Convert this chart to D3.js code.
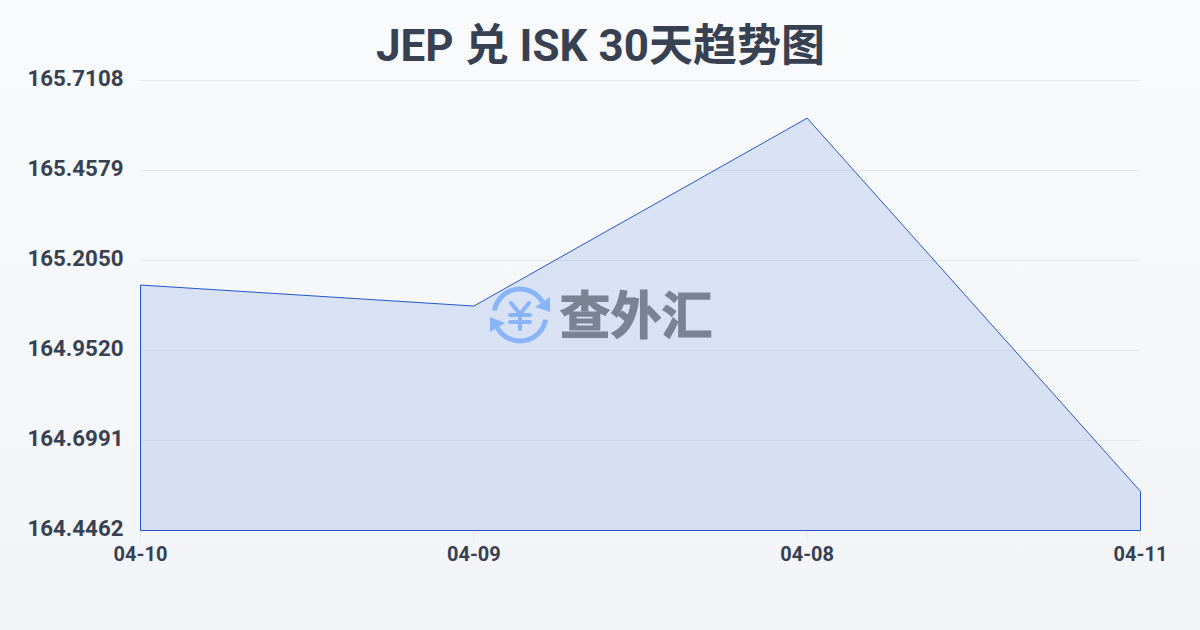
<!DOCTYPE html>
<html><head><meta charset="utf-8">
<script src="https://cdn.jsdelivr.net/npm/d3@7/dist/d3.min.js"></script>
<style>html,body{margin:0;padding:0;width:1200px;height:630px;overflow:hidden}svg{display:block}
text{font-family:Roboto,"Noto Sans CJK SC",sans-serif;font-weight:700}</style></head>
<body><svg id="c" width="1200" height="630"></svg>
<script>
const titleText = "JEP 兑 ISK 30天趋势图";
const categories = ["04-10","04-09","04-08","04-11"];
const rates = [165.136,165.077,165.605,164.556];
const yTickLabels = ["164.4462","164.6991","164.9520","165.2050","165.4579","165.7108"];
const watermarkText = "查外汇";

const svg = d3.select("#c");
const defs = svg.append("defs");
const bg = defs.append("linearGradient").attr("id","bg").attr("x1",0).attr("y1",0).attr("x2",0).attr("y2",1);
bg.append("stop").attr("offset",0).attr("stop-color","#f8fafc");
bg.append("stop").attr("offset",1).attr("stop-color","#f2f4f7");
svg.append("rect").attr("width",1200).attr("height",630).attr("fill","url(#bg)");

const x = d3.scalePoint().domain(categories).range([140.5,1140.5]);
const y = d3.scaleLinear().domain([+yTickLabels[0],+yTickLabels[5]]).range([530.5,80.5]);

svg.append("g").selectAll("line").data(yTickLabels).join("line")
  .attr("x1",140).attr("x2",1140).attr("y1",d=>y(+d)).attr("y2",d=>y(+d))
  .attr("stroke","#e5e7eb").attr("stroke-width",1);
svg.append("g").selectAll("line").data(categories).join("line")
  .attr("x1",d=>x(d)).attr("x2",d=>x(d)).attr("y1",530).attr("y2",540)
  .attr("stroke","#e5e7eb").attr("stroke-width",1);

const area = d3.area().x((d,i)=>x(categories[i])).y0(y.range()[0]).y1(d=>y(d));
svg.append("path").datum(rates).attr("d",area).attr("fill","#1d4ed8").attr("fill-opacity",0.13)
  .attr("stroke","#2457c5").attr("stroke-width",1);

svg.append("g").selectAll("text").data(yTickLabels).join("text")
  .attr("x",123.5).attr("y",d=>y(+d)+5.5).attr("text-anchor","end")
  .attr("font-size",22.3).attr("fill","#374151").text(d=>d);
svg.append("g").selectAll("text").data(categories).join("text")
  .attr("x",d=>x(d)).attr("y",561).attr("text-anchor","middle")
  .attr("font-size",20).attr("fill","#374151").text(d=>d);
svg.append("text").attr("x",600.5).attr("y",61).attr("text-anchor","middle")
  .attr("font-size",44).attr("fill","#374151").text(titleText);

// watermark
const wm = svg.append("g");
const blue = "#8ab4f8";
const ic = wm.append("g").attr("transform","translate(520,315)").attr("fill","none").attr("stroke",blue).attr("stroke-linecap","round");
const arc = d3.arc().innerRadius(26).outerRadius(26);
ic.append("path").attr("stroke-width",5).attr("d",arc({startAngle:-1.4,endAngle:1.05}));
ic.append("path").attr("stroke-width",5).attr("d",arc({startAngle:1.75,endAngle:4.2}));
ic.append("polygon").attr("fill",blue).attr("stroke","none").attr("points",[[30,-18],[30,-3],[15,-8]].join(" "));
ic.append("polygon").attr("fill",blue).attr("stroke","none").attr("points",[[-30,2],[-30,17],[-15,8]].join(" "));
const yen = ic.append("g").attr("stroke-width",4);
yen.append("path").attr("d","M-9,-12L0,-1L9,-12M0,-1V14M-10,0H10M-10,7H10");
wm.append("text").attr("x",636).attr("y",334).attr("text-anchor","middle").attr("font-size",51)
  .attr("fill","#7a8394").attr("stroke","#7a8394").attr("stroke-width",1.2).text(watermarkText);
</script></body></html>
